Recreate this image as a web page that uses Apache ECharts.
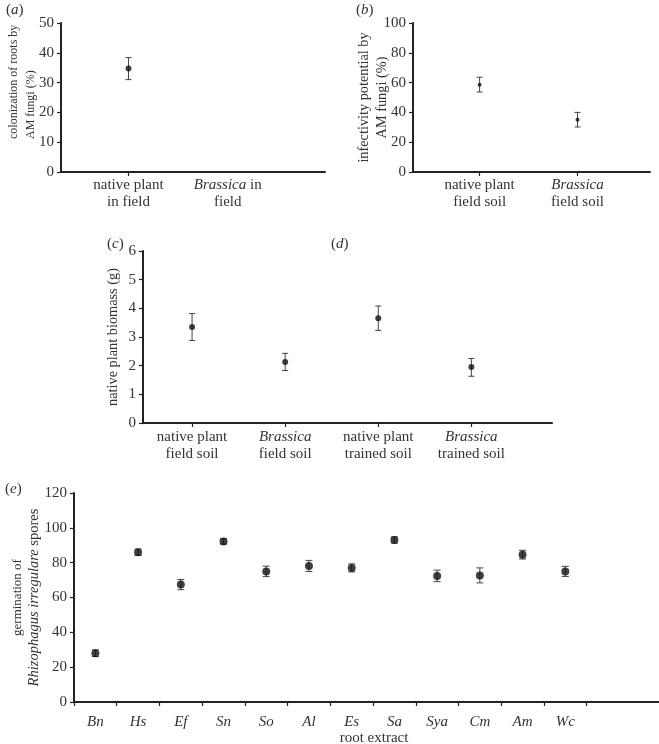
<!DOCTYPE html>
<html><head><meta charset="utf-8">
<script src="https://cdn.jsdelivr.net/npm/echarts@6/dist/echarts.min.js"></script>
<style>html,body{margin:0;padding:0;background:#fff}#c{width:659px;height:744px}</style>
</head><body><div id="c"></div>
<script>
// ---- Panel (a)
const aCategories = ['native plant\nin field', '{i|Brassica} in\nfield'];
const aMean = [34.7];
const aLow = [31.0];
const aHigh = [38.4];
const aTicks = [0, 10, 20, 30, 40, 50];
// ---- Panel (b)
const bCategories = ['native plant\nfield soil', '{i|Brassica}\nfield soil'];
const bMean = [58.6, 35.0];
const bLow = [53.7, 30.2];
const bHigh = [63.6, 40.0];
const bTicks = [0, 20, 40, 60, 80, 100];
// ---- Panels (c)/(d)
const cCategories = ['native plant\nfield soil', '{i|Brassica}\nfield soil', 'native plant\ntrained soil', '{i|Brassica}\ntrained soil'];
const cMean = [3.35, 2.13, 3.65, 1.95];
const cLow = [2.88, 1.83, 3.23, 1.63];
const cHigh = [3.82, 2.43, 4.08, 2.25];
const cTicks = [0, 1, 2, 3, 4, 5, 6];
// ---- Panel (e)
const eCategories = ['Bn', 'Hs', 'Ef', 'Sn', 'So', 'Al', 'Es', 'Sa', 'Sya', 'Cm', 'Am', 'Wc'];
const eMean = [28, 86, 67.4, 92.2, 75, 78.1, 77, 93, 72.4, 72.7, 84.6, 75];
const eErr = [1.9, 1.8, 2.9, 1.5, 3.0, 3.2, 2.3, 1.8, 3.3, 4.3, 2.5, 2.9];
const eTicks = [0, 20, 40, 60, 80, 100, 120];

const FONT = 'Liberation Serif';
const INK = '#222';
const TXT = '#333';

const chart = echarts.init(document.getElementById('c'), null, {renderer: 'canvas'});

function yAxis(gridIndex, ticks, name, nameGap, fontSize, lineHeight, rich, extra) {
  return {
    type: 'value', gridIndex,
    min: ticks[0], max: ticks[ticks.length - 1], interval: ticks[1] - ticks[0],
    name, nameLocation: 'middle', nameGap, nameRotate: 90, nameMoveOverlap: false,
    nameTextStyle: Object.assign({fontFamily: FONT, fontSize, color: TXT, lineHeight, rich: rich || {}}, extra || {}),
    axisLine: {show: true, lineStyle: {color: INK, width: 2}},
    axisTick: {show: true, inside: false, length: 4, lineStyle: {color: INK, width: 1.2}},
    axisLabel: {fontFamily: FONT, fontSize: 15, color: TXT, margin: 7},
    splitLine: {show: false}
  };
}
const italicRich = {i: {fontStyle: 'italic', fontFamily: FONT, fontSize: 15, color: TXT, lineHeight: 17}};

function xCatAxis(gridIndex, cats, min, max, tickVals, margin) {
  const vals = cats.map((_, i) => i + 1);
  return {
    type: 'value', gridIndex, min, max,
    axisLine: {show: true, onZero: false, lineStyle: {color: INK, width: 2}},
    axisTick: {show: true, length: 4, customValues: tickVals || vals, lineStyle: {color: INK, width: 1.2}},
    axisLabel: {
      customValues: vals, fontFamily: FONT, fontSize: 15, color: TXT, margin, lineHeight: 17,
      formatter: v => cats[Math.round(v) - 1] || '', rich: italicRich
    },
    splitLine: {show: false}
  };
}

function errSeries(idx, data, capW) {
  return {
    type: 'custom', xAxisIndex: idx, yAxisIndex: idx, z: 2,
    data,
    renderItem: (params, api) => {
      const x = api.value(0);
      const lo = api.coord([x, api.value(1)]);
      const hi = api.coord([x, api.value(2)]);
      const st = {stroke: '#444', lineWidth: 1};
      return {type: 'group', children: [
        {type: 'line', shape: {x1: lo[0], y1: lo[1], x2: hi[0], y2: hi[1]}, style: st},
        {type: 'line', shape: {x1: lo[0] - capW, y1: lo[1], x2: lo[0] + capW, y2: lo[1]}, style: st},
        {type: 'line', shape: {x1: hi[0] - capW, y1: hi[1], x2: hi[0] + capW, y2: hi[1]}, style: st}
      ]};
    }
  };
}
function ptSeries(idx, data, size) {
  return {type: 'scatter', xAxisIndex: idx, yAxisIndex: idx, z: 3, data, symbol: 'circle', symbolSize: size,
    itemStyle: {color: '#111'}, silent: true};
}

const aPts = aMean.map((m, i) => [i + 1, m]);
const aErr = aMean.map((m, i) => [i + 1, aLow[i], aHigh[i]]);
const bPts = bMean.map((m, i) => [i + 1, m]);
const bErrD = bMean.map((m, i) => [i + 1, bLow[i], bHigh[i]]);
const cPts = cMean.map((m, i) => [i + 1, m]);
const cErrD = cMean.map((m, i) => [i + 1, cLow[i], cHigh[i]]);
const ePts = eMean.map((m, i) => [i + 1, m]);
const eErrD = eMean.map((m, i) => [i + 1, m - eErr[i], m + eErr[i]]);
const eTickVals = [0.5].concat(eCategories.map((_, i) => i + 1.5));

function panelTitle(letter, left, top) {
  return {text: '({i|' + letter + '})', left, top,
    textStyle: {fontFamily: FONT, fontSize: 15, fontWeight: 'normal', color: TXT,
      rich: {i: {fontStyle: 'italic', fontFamily: FONT, fontSize: 15, color: TXT}}}};
}

const gridBase = {containLabel: false, outerBoundsMode: 'none'};
const option = {
  animation: false,
  backgroundColor: '#fff',
  title: [panelTitle('a', 1, -2), panelTitle('b', 351, -2), panelTitle('c', 102, 232), panelTitle('d', 326, 232), panelTitle('e', 0, 477)],
  grid: [
    Object.assign({left: 61, top: 23, width: 264, height: 149}, gridBase),
    Object.assign({left: 413, top: 23, width: 237, height: 149}, gridBase),
    Object.assign({left: 143, top: 251, width: 409, height: 172}, gridBase),
    Object.assign({left: 74, top: 493, width: 600, height: 209}, gridBase)
  ],
  xAxis: [
    xCatAxis(0, aCategories, 0.32, 2.98, [1], 5),
    xCatAxis(1, bCategories, 0.32, 2.74, null, 5),
    xCatAxis(2, cCategories, 0.473, 4.866, null, 6),
    Object.assign(xCatAxis(3, eCategories, 0.5, 14.545, eTickVals, 12), {
      name: 'root extract', nameLocation: 'middle', nameGap: 29, nameMoveOverlap: false,
      nameTextStyle: {fontFamily: FONT, fontSize: 15, color: TXT}
    })
  ],
  yAxis: [
    yAxis(0, aTicks, '{l|colonization of roots by}\n{l|AM fungi (%)}', 22, 12, 17,
      {l: {width: 115, align: 'left', fontFamily: FONT, fontSize: 12, color: TXT, lineHeight: 17}},
      {padding: [0, 0, 0, 32]}),
    yAxis(1, bTicks, 'infectivity potential by\nAM fungi (%)', 22, 14.3, 18),
    yAxis(2, cTicks, 'native plant biomass (g)', 21, 14.3, 17),
    yAxis(3, eTicks, '{g|germination of}\n{i|Rhizophagus irregulare}{r| spores}', 32, 13, 16,
      {g: {fontFamily: FONT, fontSize: 13, color: TXT, lineHeight: 16},
       i: {fontStyle: 'italic', fontFamily: FONT, fontSize: 14.5, color: TXT, lineHeight: 16},
       r: {fontFamily: FONT, fontSize: 14.5, color: TXT, lineHeight: 16}})
  ],
  series: [
    errSeries(0, aErr, 3), ptSeries(0, aPts, 6),
    errSeries(1, bErrD, 3), ptSeries(1, bPts, 4),
    errSeries(2, cErrD, 3), ptSeries(2, cPts, 6),
    errSeries(3, eErrD, 3.5), ptSeries(3, ePts, 8)
  ]
};
option.xAxis[3].axisLabel.fontStyle = 'italic';
chart.setOption(option);
</script>
</body></html>
